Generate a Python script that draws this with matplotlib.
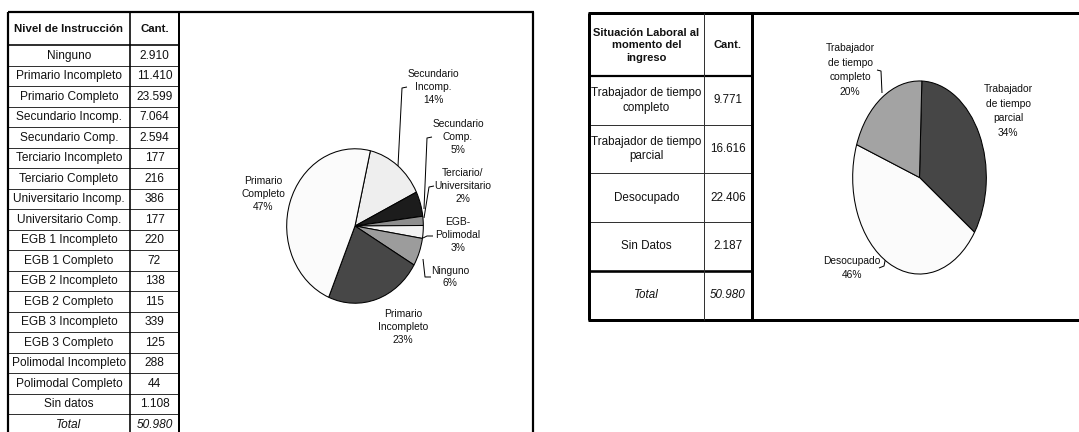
import matplotlib
matplotlib.use('Agg')
import matplotlib.pyplot as plt
from matplotlib import font_manager

# ---------------- data ----------------
nivel_labels = ['Ninguno', 'Primario Incompleto', 'Primario Completo',
                'Secundario Incomp.', 'Secundario Comp.', 'Terciario Incompleto',
                'Terciario Completo', 'Universitario Incomp.', 'Universitario Comp.',
                'EGB 1 Incompleto', 'EGB 1 Completo', 'EGB 2 Incompleto',
                'EGB 2 Completo', 'EGB 3 Incompleto', 'EGB 3 Completo',
                'Polimodal Incompleto', 'Polimodal Completo', 'Sin datos']
nivel_cant = [2910, 11410, 23599, 7064, 2594, 177, 216, 386, 177,
              220, 72, 138, 115, 339, 125, 288, 44, 1108]
nivel_total = 50980

pie1_labels = ['Secundario\nIncomp.', 'Secundario\nComp.', 'Terciario/\nUniversitario',
               'EGB-\nPolimodal', 'Ninguno', 'Primario\nIncompleto', 'Primario\nCompleto']
pie1_values = [7064, 2594, 956, 1341, 2910, 11410, 23599]

lab_labels = ['Trabajador de tiempo\ncompleto', 'Trabajador de tiempo\nparcial',
              'Desocupado', 'Sin Datos']
lab_cant = [9771, 16616, 22406, 2187]
lab_total = 50980

pie2_labels = ['Trabajador\nde tiempo\nparcial', 'Desocupado', 'Trabajador\nde tiempo\ncompleto']
pie2_values = [16616, 22406, 9771]

# ---------------- styles ----------------
pie1_colors = ['#eeeeee', '#1c1c1c', '#8e8e8e', '#f2f2f2', '#9c9c9c', '#474747', '#fbfbfb']
pie2_colors = ['#464646', '#fbfbfb', '#a3a3a3']

names = {f.name for f in font_manager.fontManager.ttflist}
NARROW = 'Liberation Sans Narrow' in names
REG = 'Liberation Sans'
NAR = 'Liberation Sans Narrow' if NARROW else 'Liberation Sans'


def fmt(v):
    return f"{v:,}".replace(',', '.')


W, H = 1079, 432
fig = plt.figure(figsize=(W / 100, H / 100), dpi=100)
fig.patch.set_facecolor('white')

ov = fig.add_axes([0, 0, 1, 1])
ov.set_xlim(0, W)
ov.set_ylim(H, 0)
ov.axis('off')

PX = 0.72  # points per pixel


def line(pts, lw_px=1.0, color='black', z=3):
    xs = [p[0] for p in pts]
    ys = [p[1] for p in pts]
    ov.plot(xs, ys, color=color, lw=lw_px * PX, solid_capstyle='butt', zorder=z, clip_on=False)


# ---------------- left table ----------------
L, D, R, BR = 8, 130, 179, 533
TOP, HB, RH = 12, 45, 20.5
fs_l = 8.6
ov.text((L + D) / 2, (TOP + HB) / 2 + 1, 'Nivel de Instrucción', ha='center', va='center',
        fontsize=8.2, fontweight='bold', family=REG, color='#111')
ov.text((D + R) / 2, (TOP + HB) / 2 + 1, 'Cant.', ha='center', va='center',
        fontsize=8.2, fontweight='bold', family=REG, color='#111')
rows = list(zip(nivel_labels, nivel_cant))
for i, (lab, v) in enumerate(rows):
    yc = HB + RH * (i + 0.5) + 0.5
    ov.text((L + D) / 2, yc, lab, ha='center', va='center', fontsize=fs_l, family=REG, color='#111')
    ov.text((D + R) / 2, yc, fmt(v), ha='center', va='center', fontsize=fs_l, family=REG, color='#111')
yc = HB + RH * (len(rows) + 0.5) + 0.5
ov.text((L + D) / 2, yc, 'Total', ha='center', va='center', fontsize=fs_l, family=REG,
        style='italic', color='#111')
ov.text((D + R) / 2, yc, fmt(nivel_total), ha='center', va='center', fontsize=fs_l, family=REG,
        style='italic', color='#111')
for i in range(len(rows) + 1):
    y = HB + RH * (i + 1) if i < len(rows) else None
for i in range(1, len(rows) + 1):
    y = HB + RH * i
    line([(L, y), (R, y)], 1.0, '#333')
line([(L, HB), (R, HB)], 1.6)
line([(L, TOP), (BR + 1, TOP)], 2.2)
line([(L, TOP), (L, H)], 2.2)
line([(D, TOP), (D, H)], 1.6)
line([(R, TOP), (R, H)], 2.0)
line([(BR, TOP), (BR, H)], 2.2)

# ---------------- right table ----------------
L2, D2, R2 = 589, 704, 752
TOP2, HB2, RH2 = 13, 76, 48.7
fs_r = 10 if NARROW else 8.4
ov.text((L2 + D2) / 2, (TOP2 + HB2) / 2 + 1, 'Situación Laboral al\nmomento del\ningreso',
        ha='center', va='center', fontsize=fs_r - 0.4, fontweight='bold', family=NAR,
        linespacing=1.3, color='#111')
ov.text((D2 + R2) / 2, (TOP2 + HB2) / 2 + 1, 'Cant.', ha='center', va='center',
        fontsize=fs_r - 0.4, fontweight='bold', family=NAR, color='#111')
for i, (lab, v) in enumerate(zip(lab_labels, lab_cant)):
    yc = HB2 + RH2 * (i + 0.5)
    ov.text((L2 + D2) / 2, yc, lab, ha='center', va='center', fontsize=fs_r, family=NAR,
            linespacing=1.3, color='#111')
    ov.text((D2 + R2) / 2, yc, fmt(v), ha='center', va='center', fontsize=fs_r, family=NAR,
            color='#111')
yc = HB2 + RH2 * (len(lab_cant) + 0.5)
ov.text((L2 + D2) / 2, yc, 'Total', ha='center', va='center', fontsize=fs_r, family=NAR,
        style='italic', color='#111')
ov.text((D2 + R2) / 2, yc, fmt(lab_total), ha='center', va='center', fontsize=fs_r, family=NAR,
        style='italic', color='#111')
BOT2 = HB2 + RH2 * (len(lab_cant) + 1)
for i in range(1, len(lab_cant)):
    y = HB2 + RH2 * i
    line([(L2, y), (R2, y)], 1.0, '#333')
line([(L2, HB2), (R2, HB2)], 2.2)
line([(L2, HB2 + RH2 * len(lab_cant)), (R2, HB2 + RH2 * len(lab_cant))], 2.6)
line([(L2 - 1, TOP2), (W, TOP2)], 3.0)
line([(L2 - 1, BOT2), (W, BOT2)], 3.0)
line([(L2, TOP2), (L2, BOT2)], 3.0)
line([(D2, TOP2), (D2, BOT2)], 1.0, '#333')
line([(R2, TOP2), (R2, BOT2)], 3.0)


# ---------------- pies ----------------
def pie_axes(x0, y0, x1, y1):
    a = fig.add_axes([x0 / W, 1 - y1 / H, (x1 - x0) / W, (y1 - y0) / H])
    return a


ax1 = pie_axes(286, 148, 424, 304)
ax1.pie(pie1_values, colors=pie1_colors, startangle=77, counterclock=False,
        wedgeprops=dict(edgecolor='black', linewidth=0.75))
ax1.set_aspect('auto')
ax1.set_xlim(-1.01, 1.01)
ax1.set_ylim(-1.01, 1.01)
ax1.axis('off')

tot1 = sum(pie1_values)
pos1 = [(433, 87), (458, 137), (463, 186), (458, 235), (450, 277), (403, 327), (263, 194)]
for lab, v, (x, y) in zip(pie1_labels, pie1_values, pos1):
    ov.text(x, y, f"{lab}\n{round(v / tot1 * 100)}%", ha='center', va='center',
            fontsize=7.4, family=NAR if NARROW else REG, linespacing=1.35, color='#111')
lead1 = [[(398, 166), (402, 88), (407, 87)],
         [(424, 209), (427, 138), (432, 137)],
         [(424, 218), (429, 187), (434, 186)],
         [(423, 238), (427, 236), (433, 236)],
         [(423, 259), (425, 277), (431, 277)]]
for pts in lead1:
    line(pts, 1.0)

ax2 = pie_axes(852, 80, 987, 275)
ax2.pie(pie2_values, colors=pie2_colors, startangle=88, counterclock=False,
        wedgeprops=dict(edgecolor='black', linewidth=0.75))
ax2.set_aspect('auto')
ax2.set_xlim(-1.01, 1.01)
ax2.set_ylim(-1.01, 1.01)
ax2.axis('off')

tot2 = sum(pie2_values)
pos2 = [(1008, 111), (852, 268), (850, 70)]
for lab, v, (x, y) in zip(pie2_labels, pie2_values, pos2):
    ov.text(x, y, f"{lab}\n{round(v / tot2 * 100)}%", ha='center', va='center',
            fontsize=8.0 if NARROW else 7.4, family=NAR, linespacing=1.55, color='#111')
line([(877, 70), (881, 71), (882, 93)], 1.0)
line([(879, 268), (884, 266), (886, 256)], 1.0)

fig.savefig('out.png', dpi=100, facecolor='white')
